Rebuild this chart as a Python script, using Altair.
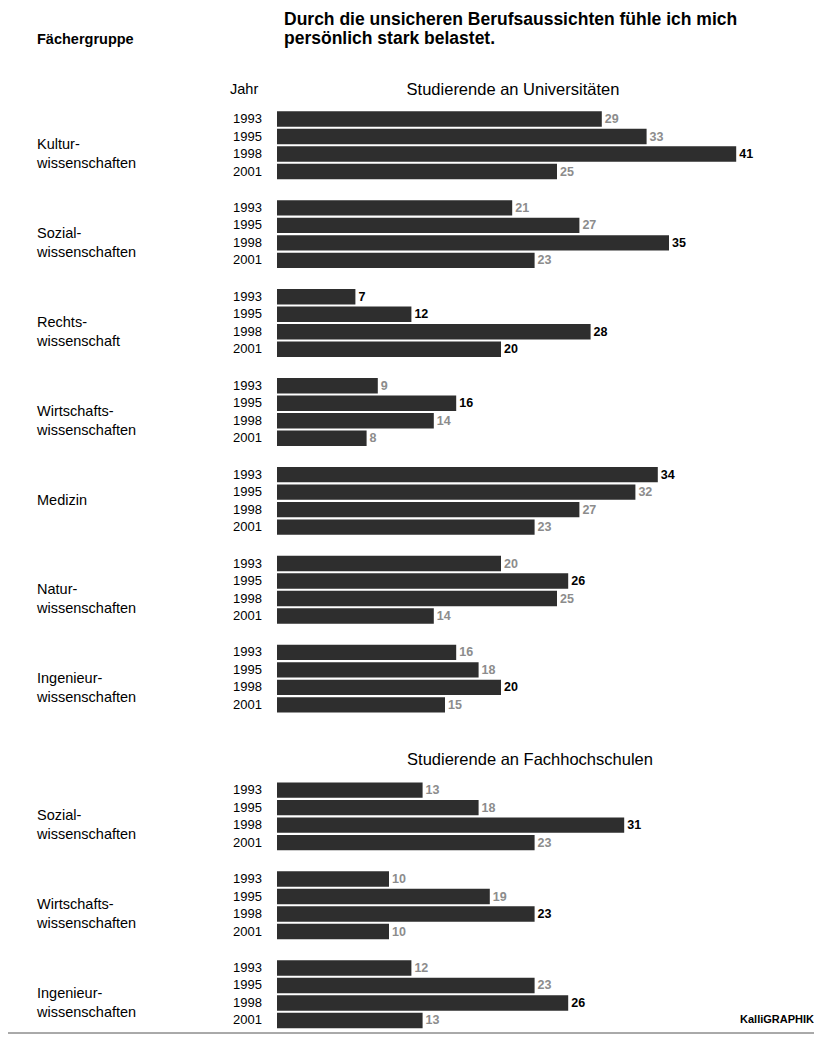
import altair as alt
import pandas as pd

# ---------------- data ----------------
years = ["1993", "1995", "1998", "2001"]

uni_groups = [
    "Kultur-\nwissenschaften",
    "Sozial-\nwissenschaften",
    "Rechts-\nwissenschaft",
    "Wirtschafts-\nwissenschaften",
    "Medizin",
    "Natur-\nwissenschaften",
    "Ingenieur-\nwissenschaften",
]
uni_values = [
    [29, 33, 41, 25],
    [21, 27, 35, 23],
    [7, 12, 28, 20],
    [9, 16, 14, 8],
    [34, 32, 27, 23],
    [20, 26, 25, 14],
    [16, 18, 20, 15],
]

fh_groups = [
    "Sozial-\nwissenschaften",
    "Wirtschafts-\nwissenschaften",
    "Ingenieur-\nwissenschaften",
]
fh_values = [
    [13, 18, 31, 23],
    [10, 19, 23, 10],
    [12, 23, 26, 13],
]

title_text = "Durch die unsicheren Berufsaussichten fühle ich mich\npersönlich stark belastet."
uni_head = "Studierende an Universitäten"
fh_head = "Studierende an Fachhochschulen"

# ---------------- layout ----------------
W, H = 806, 1040
STEP = 5.08          # rows per group
FH_BASE = 38.35      # row index of first FH bar
ROW_PX = 17.5
Y0_PX = 111          # pixel of row 0
X0_PX = 269          # pixel of value 0
PX_PER = 11.2
FONT = "Liberation Sans"

rows, groups = [], []
for base, gnames, gvals, sec in [(0, uni_groups, uni_values, "U"), (FH_BASE, fh_groups, fh_values, "F")]:
    for g, (name, vals) in enumerate(zip(gnames, gvals)):
        start = base + g * STEP
        mx = max(vals)
        for j, (yr, v) in enumerate(zip(years, vals)):
            emph = (v == mx) or name.startswith("Rechts")
            rows.append({"section": sec, "group": name, "year": yr, "value": v,
                         "pos": start + j, "emph": "a" if emph else "b"})
        groups.append({"group": name, "pos": start + 1.5})

df = pd.DataFrame(rows)
gdf = pd.DataFrame(groups)

xscale = alt.Scale(domain=[-X0_PX / PX_PER, (W - X0_PX) / PX_PER], nice=False, zero=False)
yscale = alt.Scale(domain=[-Y0_PX / ROW_PX, (H - Y0_PX) / ROW_PX], nice=False, zero=False, reverse=True)

base = alt.Chart(df)

bars = base.transform_calculate(
    y0="datum.pos - 0.44", y1="datum.pos + 0.44"
).mark_rect(color="#2e2e2e").encode(
    x=alt.X("value:Q", scale=xscale, axis=None),
    x2=alt.datum(0),
    y=alt.Y("y0:Q", scale=yscale, axis=None),
    y2="y1:Q",
)

vals = base.mark_text(align="left", baseline="middle", dx=3, font=FONT,
                      fontSize=12.5, fontWeight="bold").encode(
    x=alt.X("value:Q", scale=xscale, axis=None),
    y=alt.Y("pos:Q", scale=yscale, axis=None),
    text="value:Q",
    color=alt.Color("emph:N", scale=alt.Scale(domain=["a", "b"], range=["#000000", "#8c8c8c"]), legend=None),
)

yr = base.mark_text(align="right", baseline="middle", font=FONT, fontSize=13, color="#000").encode(
    x=alt.value(254),
    y=alt.Y("pos:Q", scale=yscale, axis=None),
    text="year:N",
)

glab = alt.Chart(gdf).mark_text(align="left", baseline="middle", font=FONT, fontSize=14.5,
                                 lineBreak="\n", lineHeight=19, color="#000").encode(
    x=alt.value(29),
    y=alt.Y("pos:Q", scale=yscale, axis=None),
    text="group:N",
)

one = alt.Data(values=[{}])


def label(txt, x, y, align="left", size=14, weight="normal", baseline="middle"):
    return alt.Chart(one).mark_text(align=align, baseline=baseline, font=FONT, fontSize=size,
                                    fontWeight=weight, lineBreak="\n", lineHeight=19,
                                    color="#000").encode(
        x=alt.value(x), y=alt.value(y), text=alt.value(txt))


t1 = label("Fächergruppe", 29, 32, size=14.5, weight="bold")
t2 = label(title_text, 276, 3, size=17.5, weight="bold", baseline="top")
t3 = label("Jahr", 222, 82, size=14.5)
t4 = label(uni_head, 505, 82, align="center", size=16.5)
t5 = label(fh_head, 522, 752, align="center", size=16.5)
t6 = label("KalliGRAPHIK", 806, 1012, align="right", size=11, weight="bold")

rule = alt.Chart(one).mark_rule(color="#555", strokeWidth=1).encode(
    x=alt.value(0), x2=alt.value(W), y=alt.value(1025))

chart = alt.layer(bars, vals, yr, glab, t1, t2, t3, t4, t5, t6, rule).properties(
    width=W, height=H, padding=0, autosize=alt.AutoSizeParams(type="none")
).configure_view(stroke=None)

chart.save("out.html", embed_options={"renderer": "svg", "actions": False})
